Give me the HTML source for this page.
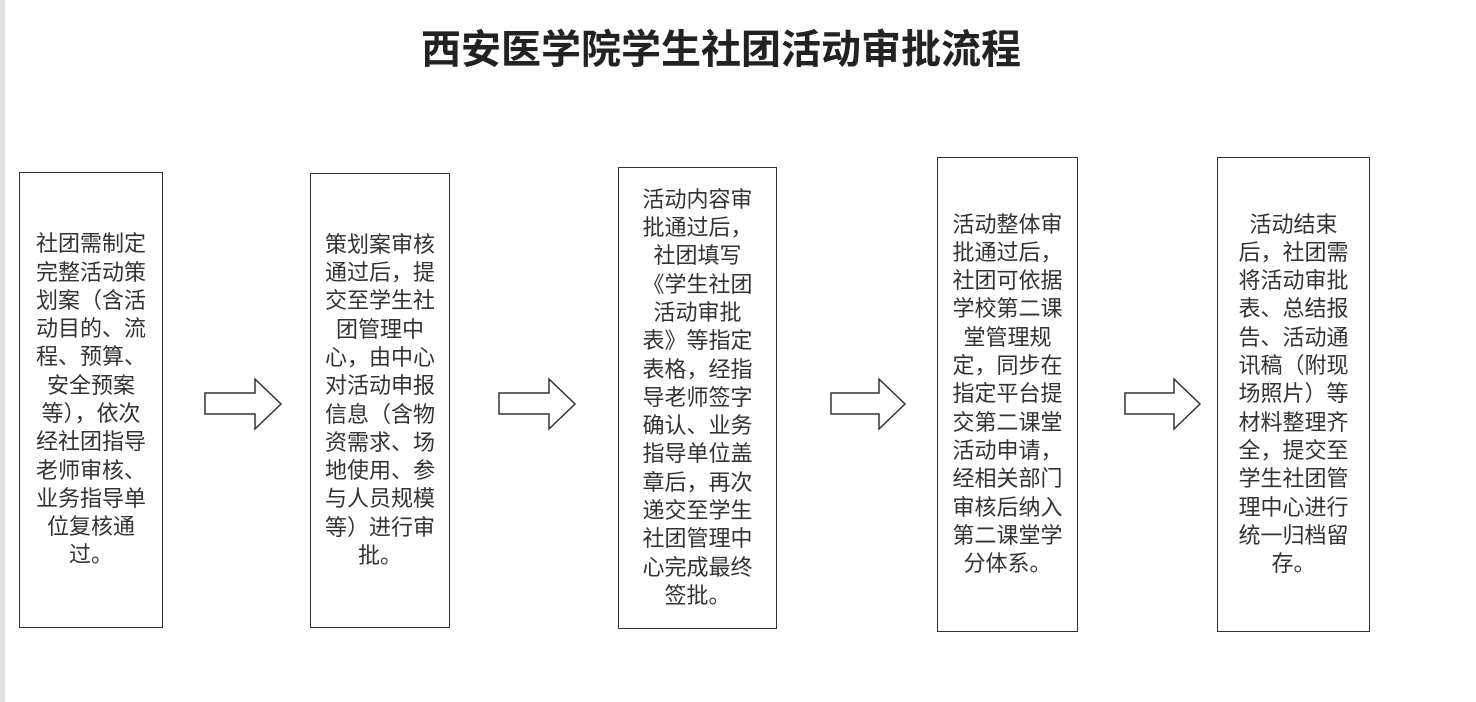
<!DOCTYPE html>
<html><head><meta charset="utf-8"><style>
body{margin:0;width:1476px;height:702px;background:#fff;position:relative;overflow:hidden;font-family:"Liberation Sans","Noto Sans CJK SC",sans-serif;color:#333}
.strip{position:absolute;left:0;top:0;width:5px;height:702px;background:#e0e0e0}
h1{position:absolute;left:0;width:1442px;top:22px;margin:0;text-align:center;font-size:40px;font-weight:bold;color:#222;line-height:56px}
.b{position:absolute;border:1.5px solid #333;box-sizing:border-box;display:flex;align-items:center;justify-content:center;text-align:center;font-size:22px;line-height:28.3px;color:#333;white-space:nowrap}
svg{position:absolute;left:0;top:0}
</style></head><body>
<div class="strip"></div>
<h1>西安医学院学生社团活动审批流程</h1>
<div class="b" style="left:19px;top:172px;width:144px;height:456px"><div>社团需制定<br>完整活动策<br>划案（含活<br>动目的、流<br>程、预算、<br>安全预案<br>等），依次<br>经社团指导<br>老师审核、<br>业务指导单<br>位复核通<br>过。</div></div>
<div class="b" style="left:310px;top:173px;width:140px;height:455px"><div>策划案审核<br>通过后，提<br>交至学生社<br>团管理中<br>心，由中心<br>对活动申报<br>信息（含物<br>资需求、场<br>地使用、参<br>与人员规模<br>等）进行审<br>批。</div></div>
<div class="b" style="left:618px;top:167px;width:159px;height:462px"><div>活动内容审<br>批通过后，<br>社团填写<br>《学生社团<br>活动审批<br>表》等指定<br>表格，经指<br>导老师签字<br>确认、业务<br>指导单位盖<br>章后，再次<br>递交至学生<br>社团管理中<br>心完成最终<br>签批。</div></div>
<div class="b" style="left:937px;top:157px;width:141px;height:475px"><div>活动整体审<br>批通过后，<br>社团可依据<br>学校第二课<br>堂管理规<br>定，同步在<br>指定平台提<br>交第二课堂<br>活动申请，<br>经相关部门<br>审核后纳入<br>第二课堂学<br>分体系。</div></div>
<div class="b" style="left:1217px;top:157px;width:153px;height:475px"><div>活动结束<br>后，社团需<br>将活动审批<br>表、总结报<br>告、活动通<br>讯稿（附现<br>场照片）等<br>材料整理齐<br>全，提交至<br>学生社团管<br>理中心进行<br>统一归档留<br>存。</div></div>
<svg width="1476" height="702">
<g fill="#fff" stroke="#333" stroke-width="1.5">
<polygon points="205,393 255,393 255,379 281,404 255,429 255,414 205,414"/>
<polygon points="499,393 549,393 549,379 575,404 549,429 549,414 499,414"/>
<polygon points="831,393 879,393 879,379 905,404 879,429 879,414 831,414"/>
<polygon points="1125,393 1174,393 1174,379 1200,404 1174,429 1174,414 1125,414"/>
</g></svg>
</body></html>
